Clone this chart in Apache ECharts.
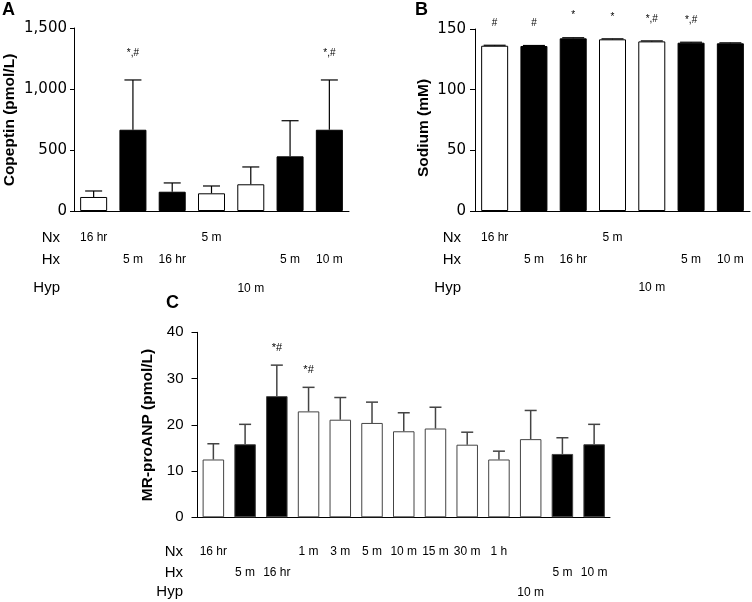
<!DOCTYPE html>
<html><head><meta charset="utf-8">
<script src="https://cdn.jsdelivr.net/npm/echarts@6/dist/echarts.min.js"></script>
<style>html,body{margin:0;padding:0;background:#fff}#c{width:752px;height:602px}</style>
</head><body><div id="c"></div>
<script>
// ---------- Panel A: Copeptin (pmol/L) ----------
const catsA = ['A1','A2','A3','A4','A5','A6','A7'];
const copeptinMean = [115, 666, 158, 145, 219, 448, 666];
const copeptinErr  = [49, 408, 72, 60, 142, 292, 408];
const sigA = ['', '*,#', '', '', '', '', '*,#'];
const nxA  = ['16 hr', '', '', '5 m', '', '', ''];
const hxA  = ['', '5 m', '16 hr', '', '', '5 m', '10 m'];
const hypA = ['', '', '', '', '10 m', '', ''];

// ---------- Panel B: Sodium (mM) ----------
const catsB = ['B1','B2','B3','B4','B5','B6','B7'];
const sodiumMean = [136.2, 136.0, 142.3, 141.5, 139.8, 138.7, 138.2];
const sodiumErr  = [0.4, 0.4, 0.5, 0.4, 0.4, 0.4, 0.4];
const sigB = ['#', '#', '*', '*', '*,#', '*,#', ''];
const nxB  = ['16 hr', '', '', '5 m', '', '', ''];
const hxB  = ['', '5 m', '16 hr', '', '', '5 m', '10 m'];
const hypB = ['', '', '', '', '10 m', '', ''];

// ---------- Panel C: MR-proANP (pmol/L) ----------
const catsC = ['C1','C2','C3','C4','C5','C6','C7','C8','C9','C10','C11','C12','C13'];
const anpMean = [12.5, 15.8, 26.2, 22.9, 21.1, 20.4, 18.6, 19.2, 15.7, 12.5, 16.9, 13.7, 15.8];
const anpErr  = [3.4, 4.3, 6.7, 5.2, 4.8, 4.5, 4.0, 4.6, 2.7, 1.8, 6.2, 3.5, 4.3];
const sigC = ['', '', '*#', '*#', '', '', '', '', '', '', '', '', ''];
const nxC  = ['16 hr', '', '', '1 m', '3 m', '5 m', '10 m', '15 m', '30 m', '1 h', '', '', ''];
const hxC  = ['', '5 m', '16 hr', '', '', '', '', '', '', '', '', '5 m', '10 m'];
const hypC = ['', '', '', '', '', '', '', '', '', '', '10 m', '', ''];

const FONT = "'Liberation Sans', Arial, sans-serif";

const panels = [
  {cats: catsA, mean: copeptinMean, err: copeptinErr, sig: sigA, nx: nxA, hx: hxA, hyp: hypA,
   grid: {left: 74, top: 28, width: 275, height: 183}, max: 1500, interval: 500,
   barWidth: 27, cap: 17, tickLen: 4, labMargin: 7, tickFont: "'DejaVu Sans', sans-serif", tickSize: 15,
   barBorder: '#000', errColor: '#000', errW: 1.2, sigGap: 27, sigSize: 10,
   rows: [26.5 - 6, 49 - 6, 78 - 6]},
  {cats: catsB, mean: sodiumMean, err: sodiumErr, sig: sigB, nx: nxB, hx: hxB, hyp: hypB,
   grid: {left: 475, top: 29, width: 275, height: 182}, max: 150, interval: 50,
   barWidth: 27, cap: 22, tickLen: 5, labMargin: 9, tickFont: "'DejaVu Sans', sans-serif", tickSize: 15,
   barBorder: '#000', errColor: '#000', errW: 1.2, sigGap: 22, sigSize: 10,
   rows: [26.5 - 6, 49 - 6, 77 - 6]},
  {cats: catsC, mean: anpMean, err: anpErr, sig: sigC, nx: nxC, hx: hxC, hyp: hypC,
   grid: {left: 197.5, top: 332.3, width: 412.5, height: 185}, max: 40, interval: 10,
   barWidth: 21.5, cap: 12, tickLen: 6, labMargin: 14, tickFont: FONT, tickSize: 15,
   barBorder: '#444', errColor: '#444', errW: 1.5, sigGap: 17, sigSize: 11,
   rows: [34.2 - 6, 55.7 - 6, 75.3 - 6]}
];

const grid = [], xAxis = [], yAxis = [], series = [];
panels.forEach((p, g) => {
  grid.push(Object.assign({containLabel: false}, p.grid));
  const mainX = xAxis.length;
  xAxis.push({type: 'category', gridIndex: g, data: p.cats,
    axisLine: {show: true, lineStyle: {color: '#000', width: 1}},
    axisTick: {show: false}, axisLabel: {show: false}});
  [p.nx, p.hx, p.hyp].forEach((row, r) => {
    xAxis.push({type: 'category', gridIndex: g, data: p.cats, position: 'bottom', offset: p.rows[r],
      axisLine: {show: false}, axisTick: {show: false}, splitLine: {show: false},
      axisLabel: {show: true, interval: 0, margin: 0, hideOverlap: false,
        fontFamily: FONT, fontSize: 12, color: '#000',
        formatter: (v, i) => row[i]}});
  });
  yAxis.push({type: 'value', gridIndex: g, min: 0, max: p.max, interval: p.interval,
    splitLine: {show: false},
    axisLine: {show: true, lineStyle: {color: '#000', width: 1}},
    axisTick: {show: true, inside: false, length: p.tickLen, lineStyle: {color: '#000'}},
    axisLabel: {margin: p.labMargin, fontFamily: p.tickFont, fontSize: p.tickSize, color: '#000',
      formatter: v => v.toLocaleString('en-US')}});
  series.push({type: 'bar', xAxisIndex: mainX, yAxisIndex: g, barWidth: p.barWidth,
    itemStyle: {borderColor: p.barBorder, borderWidth: 1},
    data: p.mean.map((v, i) => ({value: v, itemStyle: {color: p.hx[i] ? '#000' : '#fff'}})),
    animation: false, silent: true});
  series.push({type: 'custom', xAxisIndex: mainX, yAxisIndex: g, z: 5, clip: false,
    animation: false, silent: true,
    data: p.mean.map((v, i) => [i, v, v + p.err[i]]),
    renderItem: (params, api) => {
      const base = api.coord([api.value(0), api.value(1)]);
      const top = api.coord([api.value(0), api.value(2)]);
      const st = {stroke: p.errColor, lineWidth: p.errW};
      const ch = [
        {type: 'line', shape: {x1: top[0], y1: base[1], x2: top[0], y2: top[1]}, style: st},
        {type: 'line', shape: {x1: top[0] - p.cap / 2, y1: top[1], x2: top[0] + p.cap / 2, y2: top[1]}, style: st}
      ];
      const s = p.sig[params.dataIndex];
      if (s) ch.push({type: 'text', style: {text: s, x: top[0], y: top[1] - p.sigGap,
        align: 'center', verticalAlign: 'middle', fontFamily: FONT, fontSize: p.sigSize, fill: '#000'}});
      return {type: 'group', children: ch};
    }});
});

function txt(text, x, y, o) {
  return Object.assign({type: 'text', x: x, y: y, style: Object.assign({text: text, fill: '#000',
    fontFamily: FONT, fontSize: 14, align: 'left', verticalAlign: 'middle'}, o && o.style)},
    o && o.rotation !== undefined ? {rotation: o.rotation} : {});
}
const rot = Math.PI / 2;
const graphic = [
  txt('A', 2, 10, {style: {fontSize: 18, fontWeight: 'bold'}}),
  txt('B', 415, 10, {style: {fontSize: 18, fontWeight: 'bold'}}),
  txt('C', 166, 303, {style: {fontSize: 18, fontWeight: 'bold'}}),
  txt('Copeptin (pmol/L)', 10, 120, {rotation: rot, style: {fontSize: 15.5, fontWeight: 'bold', align: 'center'}}),
  txt('Sodium (mM)', 424, 128, {rotation: rot, style: {fontSize: 15.5, fontWeight: 'bold', align: 'center'}}),
  txt('MR-proANP (pmol/L)', 148, 425, {rotation: rot, style: {fontSize: 15.5, fontWeight: 'bold', align: 'center'}}),
  txt('Nx', 60, 237.5, {style: {align: 'right', fontSize: 15}}),
  txt('Hx', 60, 260, {style: {align: 'right', fontSize: 15}}),
  txt('Hyp', 60, 288, {style: {align: 'right', fontSize: 15}}),
  txt('Nx', 461, 237.5, {style: {align: 'right', fontSize: 15}}),
  txt('Hx', 461, 260, {style: {align: 'right', fontSize: 15}}),
  txt('Hyp', 461, 288, {style: {align: 'right', fontSize: 15}}),
  txt('Nx', 183, 551.5, {style: {align: 'right', fontSize: 15}}),
  txt('Hx', 183, 573, {style: {align: 'right', fontSize: 15}}),
  txt('Hyp', 183, 592, {style: {align: 'right', fontSize: 15}})
];

const chart = echarts.init(document.getElementById('c'), null, {renderer: 'canvas'});
chart.setOption({animation: false, backgroundColor: '#fff', grid, xAxis, yAxis, series, graphic});
</script>
</body></html>
